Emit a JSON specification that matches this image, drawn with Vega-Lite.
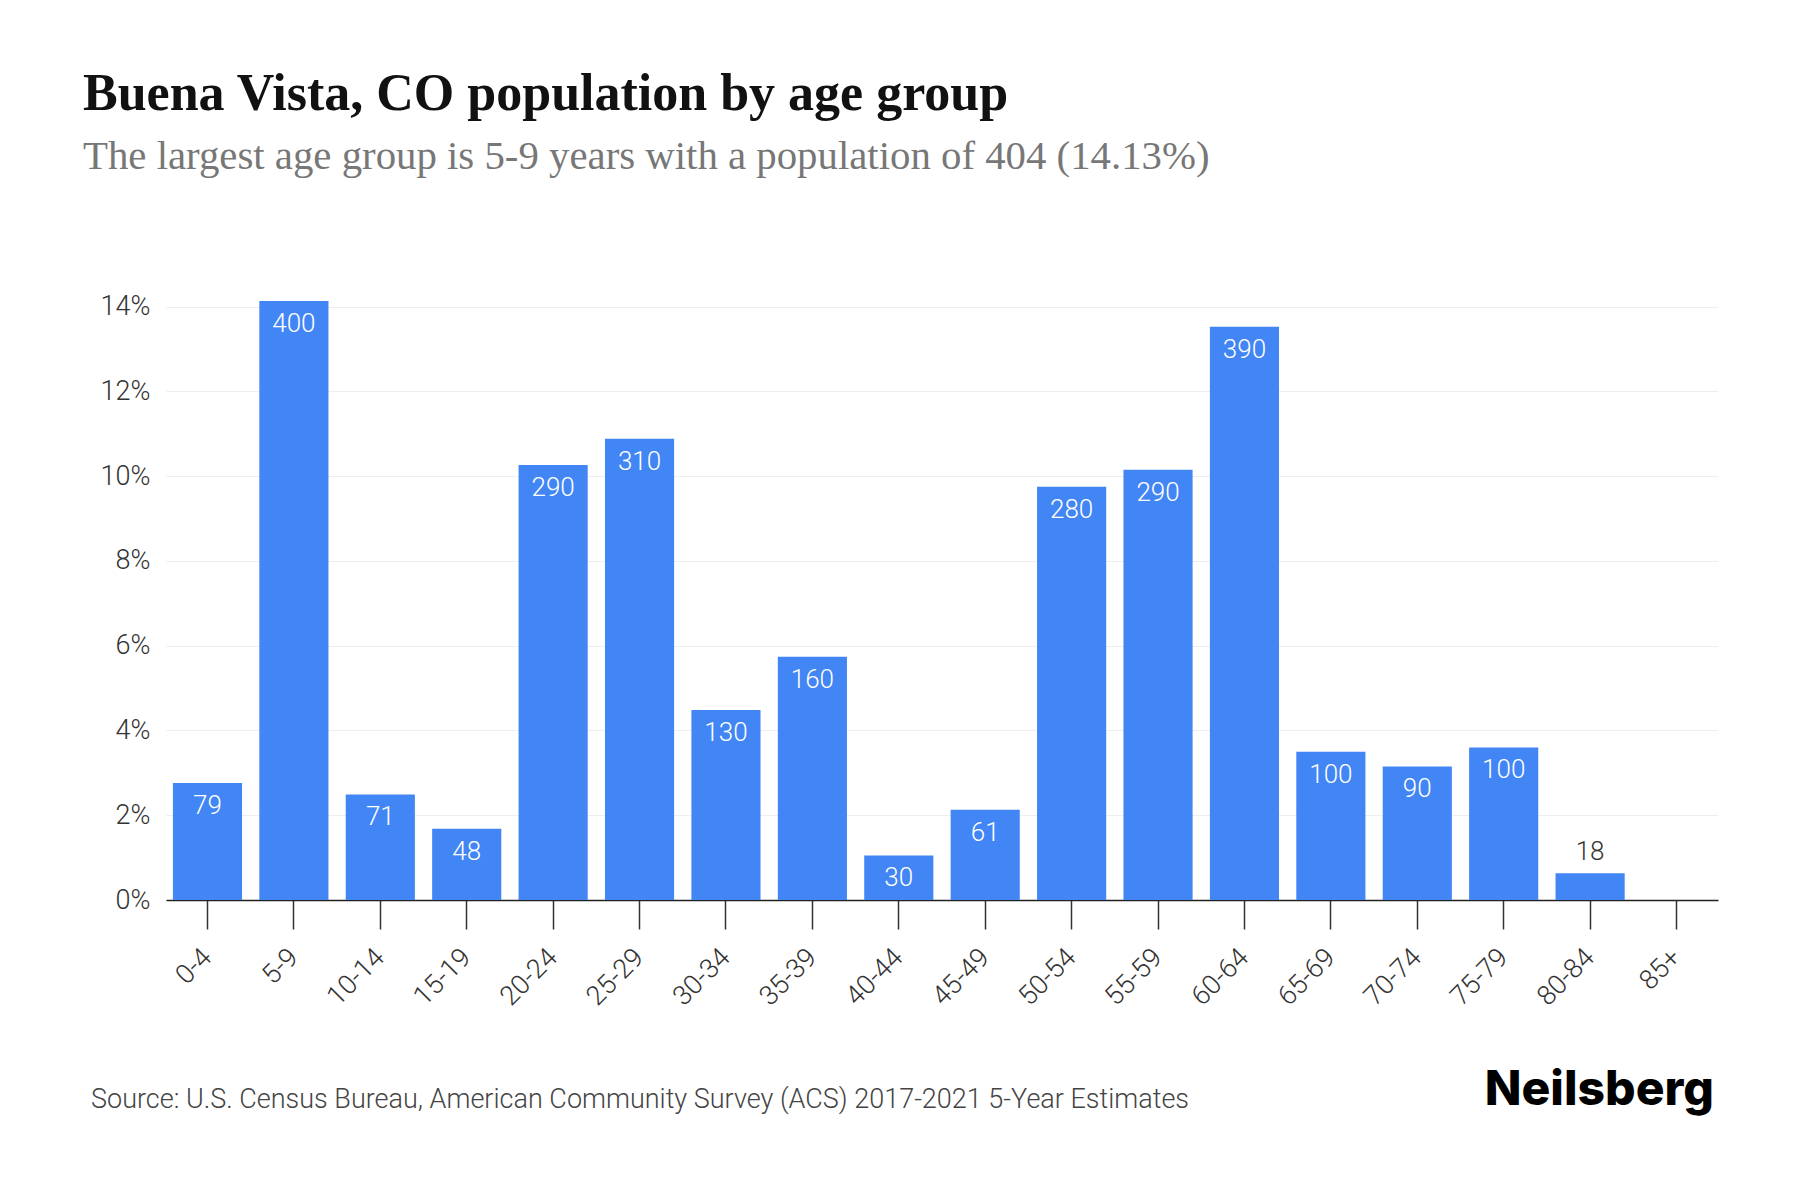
{
  "$schema": "https://vega.github.io/schema/vega-lite/v6.json",
  "autosize": {"type": "none"},
  "width": 1552,
  "height": 599,
  "padding": {"left": 166, "top": 301, "right": 82, "bottom": 300},
  "background": "white",
  "title": {
    "text": "Buena Vista, CO population by age group",
    "subtitle": "The largest age group is 5-9 years with a population of 404 (14.13%)",
    "anchor": "start",
    "frame": "group",
    "dx": -83,
    "offset": 115,
    "font": "Liberation Serif",
    "fontSize": 52,
    "fontWeight": "bold",
    "color": "#111111",
    "subtitleFont": "Liberation Serif",
    "subtitleFontSize": 40.8,
    "subtitleColor": "#777777",
    "subtitlePadding": 16
  },
  "data": {
    "values": [
      {"age": "0-4", "pct": 2.76, "pop": 79},
      {"age": "5-9", "pct": 14.13, "pop": 400},
      {"age": "10-14", "pct": 2.49, "pop": 71},
      {"age": "15-19", "pct": 1.68, "pop": 48},
      {"age": "20-24", "pct": 10.26, "pop": 290},
      {"age": "25-29", "pct": 10.88, "pop": 310},
      {"age": "30-34", "pct": 4.48, "pop": 130},
      {"age": "35-39", "pct": 5.74, "pop": 160},
      {"age": "40-44", "pct": 1.05, "pop": 30},
      {"age": "45-49", "pct": 2.13, "pop": 61},
      {"age": "50-54", "pct": 9.75, "pop": 280},
      {"age": "55-59", "pct": 10.15, "pop": 290},
      {"age": "60-64", "pct": 13.52, "pop": 390},
      {"age": "65-69", "pct": 3.5, "pop": 100},
      {"age": "70-74", "pct": 3.15, "pop": 90},
      {"age": "75-79", "pct": 3.6, "pop": 100},
      {"age": "80-84", "pct": 0.63, "pop": 18},
      {"age": "85+", "pct": 0, "pop": 0}
    ]
  },
  "encoding": {
    "x": {
      "field": "age",
      "type": "nominal",
      "sort": null,
      "scale": {"paddingInner": 0.2, "paddingOuter": 0.08},
      "axis": {
        "title": null,
        "labelAngle": -45,
        "labelAlign": "right",
        "labelBaseline": "middle",
        "labelFont": "Roboto",
        "labelFontWeight": 300,
        "labelFontSize": 27,
        "labelColor": "#333333",
        "labelPadding": 24,
        "tickSize": 29,
        "tickWidth": 1.5,
        "tickColor": "#333333",
        "domainColor": "#222222",
        "domainWidth": 1.5,
        "grid": false
      }
    },
    "y": {
      "field": "pct",
      "type": "quantitative",
      "scale": {"domain": [0, 14.13], "nice": false},
      "axis": {
        "title": null,
        "values": [0, 2, 4, 6, 8, 10, 12, 14],
        "labelExpr": "datum.value + '%'",
        "labelFont": "Roboto",
        "labelFontWeight": 300,
        "labelFontSize": 27,
        "labelColor": "#333333",
        "labelPadding": 16,
        "ticks": false,
        "domain": false,
        "grid": true,
        "gridColor": "#eeeeee",
        "gridWidth": 1
      }
    }
  },
  "layer": [
    {
      "mark": {"type": "bar", "color": "#4285F4"}
    },
    {
      "transform": [{"filter": "datum.pct >= 1"}],
      "mark": {
        "type": "text",
        "baseline": "top",
        "dy": 10,
        "font": "Roboto",
        "fontWeight": 300,
        "fontSize": 26,
        "color": "white"
      },
      "encoding": {"text": {"field": "pop", "type": "quantitative"}}
    },
    {
      "transform": [{"filter": "datum.pct > 0 && datum.pct < 1"}],
      "mark": {
        "type": "text",
        "baseline": "bottom",
        "dy": -8,
        "font": "Roboto",
        "fontWeight": 300,
        "fontSize": 26,
        "color": "#333333"
      },
      "encoding": {"text": {"field": "pop", "type": "quantitative"}}
    },
    {
      "data": {"values": [{"note": "Source: U.S. Census Bureau, American Community Survey (ACS) 2017-2021 5-Year Estimates"}]},
      "mark": {
        "type": "text",
        "align": "left",
        "baseline": "middle",
        "font": "Roboto",
        "fontWeight": 300,
        "fontSize": 27,
        "color": "#444444",
        "x": 0,
        "dx": -75,
        "y": {"expr": "height"},
        "dy": 200
      },
      "encoding": {"text": {"field": "note"}, "x": null, "y": null}
    },
    {
      "data": {"values": [{"brand": "Neilsberg"}]},
      "mark": {
        "type": "text",
        "align": "right",
        "baseline": "alphabetic",
        "font": "Inter",
        "fontWeight": 800,
        "fontSize": 48,
        "color": "#000000",
        "x": {"expr": "width"},
        "dx": -4,
        "y": {"expr": "height"},
        "dy": 205
      },
      "encoding": {"text": {"field": "brand"}, "x": null, "y": null}
    }
  ],
  "config": {
    "view": {"stroke": null}
  }
}
